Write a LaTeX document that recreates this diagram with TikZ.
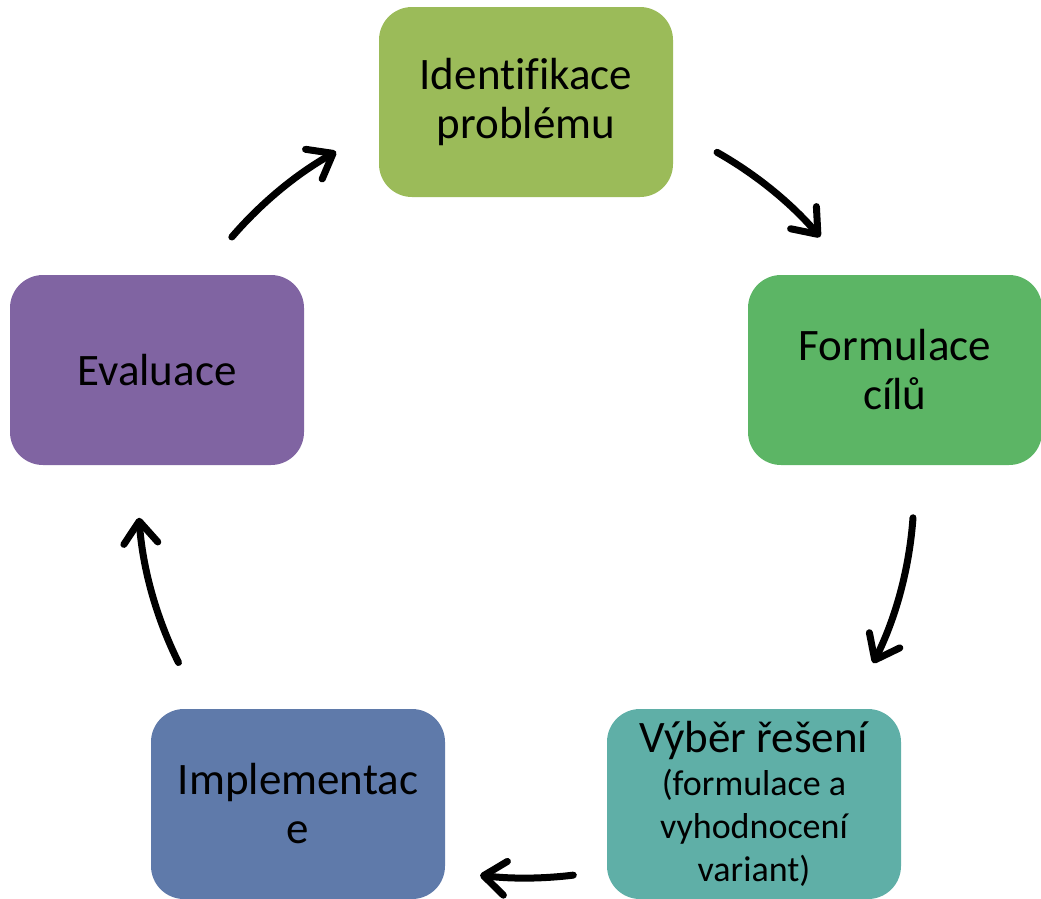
\documentclass[tikz,border=0pt]{standalone}
\usepackage{fontspec}
\setmainfont{Carlito}[Ligatures=NoCommon]
\usetikzlibrary{arrows.meta}
\definecolor{OliveGreen}{RGB}{155,187,89}
\definecolor{LeafGreen}{RGB}{92,181,101}
\definecolor{SeaTeal}{RGB}{95,175,167}
\definecolor{SteelBlue}{RGB}{95,122,170}
\definecolor{Lavender}{RGB}{128,100,162}

\begin{document}
\begin{tikzpicture}[x=1pt,y=1pt,yscale=-1,xscale=1,
		stepbox/.style={rounded corners=33pt, minimum width=294pt, minimum height=190pt, inner sep=0pt, align=center, font=\fontsize{45}{49}\selectfont},
		cyclearrow/.style={line width=7pt, line cap=round, -{Straight Barb[length=22pt,width=34pt,line cap=round,line join=round]}}]
		% Set diagram left start at 0, and has height of 898
		\useasboundingbox (0,0) rectangle (1041,898);

		% The five boxes of the cycle
		\node[stepbox, fill=OliveGreen] (identifikace) at (526,102) {Identifikace\\problému};
		\node[stepbox, fill=LeafGreen] (formulace) at (895,370) {Formulace\\cílů};
		\node[stepbox, fill=SeaTeal, font=\fontsize{36}{43}\selectfont] (vyber) at (754,804) {{\fontsize{45}{49}\selectfont Výběr řešení}\\(formulace a\\vyhodnocení\\variant)};
		\node[stepbox, fill=SteelBlue] (implementace) at (298,804) {Implementac\\e};
		\node[stepbox, fill=Lavender] (evaluace) at (157,370) {Evaluace};

		% Centre of the circle the arrows run on
		\coordinate (hub) at (526,490);

		% Start points of the arrows
		\coordinate (evaluace-out) at ([shift={(220.7:388)}]hub);
		\coordinate (identifikace-out) at ([shift={(299.5:388)}]hub);
		\coordinate (formulace-out) at ([shift={(4.1:388)}]hub);
		\coordinate (vyber-out) at ([shift={(83:388)}]hub);
		\coordinate (implementace-out) at ([shift={(153.6:388)}]hub);

		% The curved arrows between the boxes
		\draw[cyclearrow] (evaluace-out) arc[start angle=220.7, end angle=240.7, radius=388];
		\draw[cyclearrow] (identifikace-out) arc[start angle=299.5, end angle=319.3, radius=388];
		\draw[cyclearrow] (formulace-out) arc[start angle=4.1, end angle=26.5, radius=388];
		\draw[cyclearrow] (vyber-out) arc[start angle=83, end angle=96.8, radius=388];
		\draw[cyclearrow] (implementace-out) arc[start angle=153.6, end angle=175.9, radius=388];
	\end{tikzpicture}
\end{document}
